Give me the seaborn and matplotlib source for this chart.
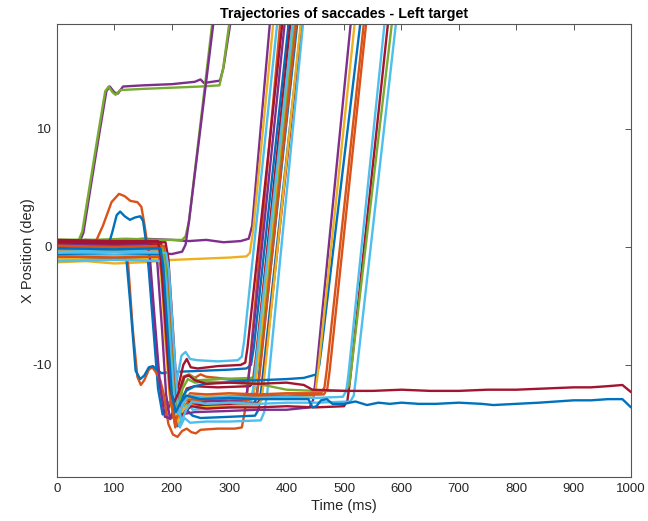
import matplotlib
matplotlib.use("Agg")
import matplotlib.pyplot as plt
import seaborn as sns
import pandas as pd

# ---------------- data: (time ms, x position deg) per trial ----------------
trial_01 = [(0,0.5),(40,0.5),(46,1.2),(60,5.5),(75,10),(86,13.2),(92,13.6),(100,13.1),(106,13.0),(115,13.6),(150,13.7),(200,13.8),(240,14.0),(250,14.2),(256,13.9),(270,14.0),(284,14.1),(290,15.2),(304,19.6)]
trial_02 = [(0,0.6),(38,0.6),(44,1.3),(58,5.5),(73,10),(84,13.2),(90,13.6),(97,13.1),(102,12.9),(110,13.3),(150,13.4),(200,13.5),(250,13.6),(283,13.7),(289,15.0),(302,19.6)]
trial_03 = [(0,0.4),(50,0.6),(100,0.5),(150,0.7),(200,0.6),(230,0.5),(260,0.6),(290,0.4),(320,0.5),(334,0.7),(340,1.8),(372,19.6)]
trial_04 = [(0,0.6),(60,0.6),(120,0.7),(180,0.6),(218,0.6),(224,0.9),(230,2.2),(272,19.6)]
trial_05 = [(0,-0.3),(60,-0.2),(120,-0.4),(170,-0.5),(200,-0.6),(218,-0.4),(224,0.2),(230,2.2),(274,19.6)]
trial_06 = [(0,-1.3),(50,-1.2),(100,-1.4),(150,-1.3),(200,-1.1),(250,-1.0),(300,-0.9),(330,-0.8),(336,-0.5),(342,1.5),(378,19.6)]
trial_07 = [(0,0.2),(50,0.3),(68,0.5),(80,1.8),(95,3.8),(108,4.5),(118,4.3),(128,3.9),(140,3.8),(147,3.4),(152,2.0),(158,0.0),(166,-5),(176,-11),(186,-13.5),(195,-13.2),(205,-12.8),(220,-13.1),(260,-13.0),(300,-13.1),(337,-13.0),(342,-12.5),(346,-11),(414,19.6)]
trial_08 = [(0,-0.3),(60,-0.2),(88,-0.1),(96,1.2),(104,2.7),(110,3.0),(118,2.6),(127,2.3),(136,2.5),(145,2.6),(150,2.2),(155,0.5),(160,-2),(168,-7),(176,-12),(184,-14.2),(192,-13.8),(202,-13.0),(215,-13.5),(250,-13.4),(300,-13.5),(341,-13.4),(347,-12.9),(351,-11.3),(420,19.6)]
trial_09 = [(0,0.3),(60,0.2),(110,0.4),(118,0.2),(124,-1.5),(132,-7),(140,-11),(146,-11.7),(152,-11.3),(160,-10.4),(166,-10.2),(172,-10.6),(180,-11.3),(186,-12.5),(194,-15),(202,-15.9),(210,-16.1),(218,-15.6),(226,-15.4),(234,-15.7),(242,-15.8),(250,-15.5),(280,-15.4),(310,-15.4),(322,-15.3),(327,-14),(332,-12),(390,19.6)]
trial_10 = [(0,-0.2),(60,-0.1),(112,0.0),(120,-0.5),(128,-5),(137,-10.5),(145,-11.2),(152,-10.9),(160,-10.2),(167,-10.1),(174,-10.4),(182,-10.7),(200,-10.6),(250,-10.5),(300,-10.4),(330,-10.3),(338,-10.0),(343,-8.5),(405,19.6)]
trial_11 = [(0,-0.5),(100,-0.6),(175,-0.6),(180,-1.5),(188,-6),(196,-11),(203,-12.5),(210,-11),(217,-9.2),(224,-8.9),(232,-9.5),(245,-9.6),(280,-9.7),(315,-9.6),(322,-9.3),(326,-8),(385,19.6)]
trial_12 = [(0,0.3),(100,0.2),(178,0.2),(183,-1),(191,-6),(199,-11.5),(206,-12.8),(213,-11.5),(220,-10),(226,-9.5),(233,-10.2),(245,-10.3),(280,-10.1),(320,-10.0),(328,-9.8),(332,-8.5),(394,19.6)]
trial_13 = [(0,-0.8),(100,-0.9),(180,-0.8),(185,-2),(193,-7),(200,-12),(206,-13.5),(212,-12.5),(220,-11.0),(230,-10.8),(240,-11.1),(250,-10.8),(260,-11.0),(300,-11.2),(335,-11.3),(342,-11.0),(346,-9.5),(410,19.6)]
trial_14 = [(0,0.1),(100,0.0),(182,0.0),(187,-1.5),(195,-7),(202,-12),(208,-13.6),(214,-12.8),(222,-11.0),(232,-10.9),(245,-11.3),(280,-11.2),(340,-11.1),(347,-10.8),(352,-9.5),(415,19.6)]
trial_15 = [(0,-0.4),(100,-0.5),(184,-0.4),(189,-2),(197,-8),(204,-13),(210,-14.2),(217,-13.2),(226,-12.0),(240,-11.8),(280,-11.9),(336,-11.8),(342,-11.5),(346,-10),(408,19.6)]
trial_16 = [(0,-0.6),(100,-0.7),(176,-0.6),(181,-2),(189,-8),(196,-12.5),(203,-14.5),(210,-13.5),(218,-12.4),(228,-12.7),(250,-12.5),(300,-12.6),(338,-12.5),(344,-12.1),(348,-10.5),(412,19.6)]
trial_17 = [(0,0.0),(100,0.1),(170,0.0),(175,-1.5),(183,-7),(190,-12.5),(197,-14.6),(205,-14.2),(215,-13.2),(230,-13.4),(260,-13.1),(300,-13.0),(326,-12.9),(331,-12.3),(335,-10.5),(398,19.6)]
trial_18 = [(0,-0.9),(100,-1.0),(183,-0.9),(188,-2.5),(196,-9),(203,-14),(210,-15.2),(218,-14.5),(226,-13.8),(236,-14.3),(250,-14.5),(300,-14.4),(345,-14.3),(351,-13.8),(356,-12),(427,19.6)]
trial_19 = [(0,-0.3),(100,-0.4),(186,-0.3),(191,-2),(198,-8),(205,-13),(212,-15.0),(220,-14.0),(228,-13.0),(236,-13.8),(260,-13.7),(300,-13.6),(333,-13.5),(339,-13),(343,-11.5),(412,19.6)]
trial_20 = [(0,0.5),(100,0.4),(181,0.4),(186,-1),(194,-7),(201,-12.5),(208,-14.3),(216,-13.5),(228,-13.1),(245,-13.4),(300,-13.3),(350,-13.2),(356,-12.8),(360,-11),(428,19.6)]
trial_21 = [(0,-0.2),(100,-0.1),(179,-0.2),(184,-2),(192,-8),(199,-13),(206,-15.3),(214,-14.2),(222,-13.0),(232,-13.4),(260,-12.8),(300,-12.9),(343,-12.8),(349,-12.3),(353,-10.8),(418,19.6)]
trial_22 = [(0,-0.7),(100,-0.6),(187,-0.7),(192,-2.5),(200,-9),(207,-14),(214,-15.3),(222,-14.5),(232,-14.9),(260,-14.8),(300,-14.8),(355,-14.7),(361,-14),(366,-12.5),(430,19.6)]
trial_23 = [(0,-1.0),(100,-1.1),(185,-1.0),(190,-2.5),(198,-8.5),(205,-13.5),(212,-14.8),(220,-13.8),(230,-13.4),(250,-13.6),(300,-13.5),(350,-13.4),(356,-13.0),(360,-11.5),(426,19.6)]
trial_24 = [(0,0.3),(100,0.2),(158,0.2),(162,-1),(170,-6),(180,-12),(188,-14.4),(196,-14.5),(205,-13.8),(215,-14.2),(240,-14.0),(300,-13.9),(350,-13.8),(400,-13.8),(440,-13.6),(446,-13.0),(450,-11.5),(513,19.6)]
trial_25 = [(0,-0.6),(100,-0.5),(180,-0.6),(185,-2),(193,-8),(200,-12.5),(207,-14),(215,-13),(225,-12.2),(240,-11.8),(260,-11.6),(300,-11.4),(350,-11.3),(400,-11.2),(430,-11.1),(452,-10.8),(457,-10),(461,-8.5),(530,19.6)]
trial_26 = [(0,-0.4),(100,-0.5),(183,-0.4),(188,-2),(196,-8),(203,-13),(210,-14.6),(218,-13.6),(228,-12.8),(250,-12.7),(300,-12.8),(350,-12.7),(400,-12.6),(446,-12.6),(451,-12.0),(455,-10.5),(520,19.6)]
trial_27 = [(0,0.1),(100,0.0),(186,0.1),(191,-1.5),(199,-7.5),(206,-12.5),(213,-14.0),(221,-13.1),(232,-12.4),(260,-12.5),(300,-12.4),(350,-12.5),(400,-12.4),(460,-12.4),(466,-11.9),(470,-10.4),(536,19.6)]
trial_28 = [(0,-0.8),(100,-0.9),(178,-0.8),(183,-2.5),(191,-8.5),(198,-13),(205,-14.9),(213,-14.0),(222,-13.0),(240,-12.9),(300,-12.7),(350,-12.6),(400,-12.6),(465,-12.5),(471,-12.0),(475,-10.5),(540,19.6)]
trial_29 = [(0,0.4),(100,0.3),(189,0.4),(194,-1),(202,-7),(209,-12.5),(216,-14.5),(224,-13.9),(234,-13.5),(260,-13.7),(300,-13.6),(350,-13.6),(400,-13.5),(450,-13.6),(500,-13.5),(506,-13.0),(510,-11.5),(578,19.6)]
trial_30 = [(0,-0.1),(100,-0.2),(184,-0.1),(189,-1.5),(197,-7.5),(204,-12.5),(211,-13.5),(219,-12.0),(228,-11.2),(240,-11.5),(260,-11.4),(300,-11.5),(350,-11.6),(400,-12.1),(450,-12.2),(503,-12.2),(509,-11.7),(513,-10.2),(585,19.6)]
trial_31 = [(0,-0.5),(100,-0.4),(190,-0.5),(195,-2),(203,-8),(210,-13),(217,-14.8),(225,-13.8),(235,-13.1),(260,-13.3),(300,-13.2),(350,-13.3),(400,-13.2),(450,-13.2),(511,-13.1),(517,-12.6),(521,-11.0),(592,19.6)]
trial_32 = [(0,-1.2),(100,-1.1),(185,-1.2),(190,-3),(198,-9),(205,-13.5),(212,-14.2),(220,-13.2),(230,-12.6),(260,-12.8),(300,-12.7),(350,-12.8),(400,-12.7),(450,-12.8),(498,-12.7),(504,-12.2),(508,-10.7),(572,19.6)]
trial_33 = [(0,0.6),(100,0.5),(176,0.5),(181,-1),(189,-6.5),(197,-12),(204,-13.2),(212,-12.3),(222,-11.0),(230,-10.9),(240,-11.3),(260,-11.6),(300,-11.5),(350,-11.6),(400,-11.5),(430,-11.7),(445,-12.1),(500,-12.2),(550,-12.2),(600,-12.1),(650,-12.2),(700,-12.2),(750,-12.1),(800,-12.1),(850,-12.0),(900,-11.9),(930,-11.9),(960,-11.8),(985,-11.7),(1000,-12.3)]
trial_34 = [(0,-0.1),(100,-0.2),(180,-0.1),(185,-1.5),(193,-7.5),(200,-12.5),(207,-14.0),(215,-13.2),(225,-12.6),(250,-12.9),(300,-12.8),(350,-12.9),(400,-12.9),(438,-12.9),(445,-13.6),(452,-13.5),(460,-13.0),(470,-12.9),(480,-13.3),(500,-13.3),(520,-13.1),(540,-13.4),(560,-13.2),(580,-13.3),(600,-13.2),(630,-13.3),(660,-13.3),(700,-13.2),(740,-13.3),(760,-13.4),(800,-13.3),(840,-13.2),(870,-13.1),(900,-13.0),(930,-13.0),(960,-12.9),(985,-12.9),(1000,-13.6)]

trials = [trial_01, trial_02, trial_03, trial_04, trial_05, trial_06, trial_07, trial_08,
          trial_09, trial_10, trial_11, trial_12, trial_13, trial_14, trial_15, trial_16,
          trial_17, trial_18, trial_19, trial_20, trial_21, trial_22, trial_23, trial_24,
          trial_25, trial_26, trial_27, trial_28, trial_29, trial_30, trial_31, trial_32,
          trial_33, trial_34]

# MATLAB default colour order
BLUE, ORANGE, YELLOW, PURPLE, GREEN, CYAN, RED = ("#0072BD", "#D95319", "#EDB120",
                                                 "#7E2F8E", "#77AC30", "#4DBEEE", "#A2142F")
trial_colors = [PURPLE, GREEN, PURPLE, GREEN, PURPLE, YELLOW, ORANGE, BLUE,
                ORANGE, BLUE, CYAN, RED, ORANGE, GREEN, RED, YELLOW,
                PURPLE, BLUE, CYAN, RED, ORANGE, CYAN, YELLOW, PURPLE,
                BLUE, YELLOW, ORANGE, ORANGE, RED, GREEN, CYAN, CYAN,
                RED, BLUE]

title_text = "Trajectories of saccades - Left target"
xlabel_text = "Time (ms)"
ylabel_text = "X Position (deg)"
x_ticks = [0, 100, 200, 300, 400, 500, 600, 700, 800, 900, 1000]
y_ticks = [-10, 0, 10]

# ---------------- build long table ----------------
rows = []
for i, tr in enumerate(trials):
    for order, (t, v) in enumerate(tr):
        rows.append({"trial": f"t{i+1:02d}", "order": order, "time": t, "pos": v})
df = pd.DataFrame(rows)

sns.set_theme(style="white")
plt.rcParams["font.family"] = ["Liberation Sans", "DejaVu Sans"]
plt.rcParams["axes.unicode_minus"] = False

fig = plt.figure(figsize=(6.48, 5.21), dpi=100)
ax = fig.add_axes([57/648, 44/521, (631-57)/648, (477-24)/521])

palette = {f"t{i+1:02d}": c for i, c in enumerate(trial_colors)}
sns.lineplot(data=df, x="time", y="pos", hue="trial", palette=palette,
             units="trial", estimator=None, sort=False, legend=False,
             linewidth=1.7, ax=ax)

ax.set_xlim(0, 1000)
ax.set_ylim(-19.5, 18.9)
ax.set_xticks(x_ticks)
ax.set_yticks(y_ticks)
edge = "#262626"
for s in ax.spines.values():
    s.set_visible(True)
    s.set_color("#555555")
    s.set_linewidth(0.8)
ax.tick_params(direction="in", length=4, width=0.7, color="#555555",
               top=True, right=True, labelsize=9.5, labelcolor=edge, pad=4)
ax.set_title(title_text, fontsize=10.3, fontweight="bold", color="black", pad=4)
ax.set_xlabel(xlabel_text, fontsize=10.5, color=edge, labelpad=3)
ax.set_ylabel(ylabel_text, fontsize=10.5, color=edge)
ax.yaxis.set_label_coords(-0.038, 0.5)

fig.savefig("out.png", dpi=100, facecolor="white")
